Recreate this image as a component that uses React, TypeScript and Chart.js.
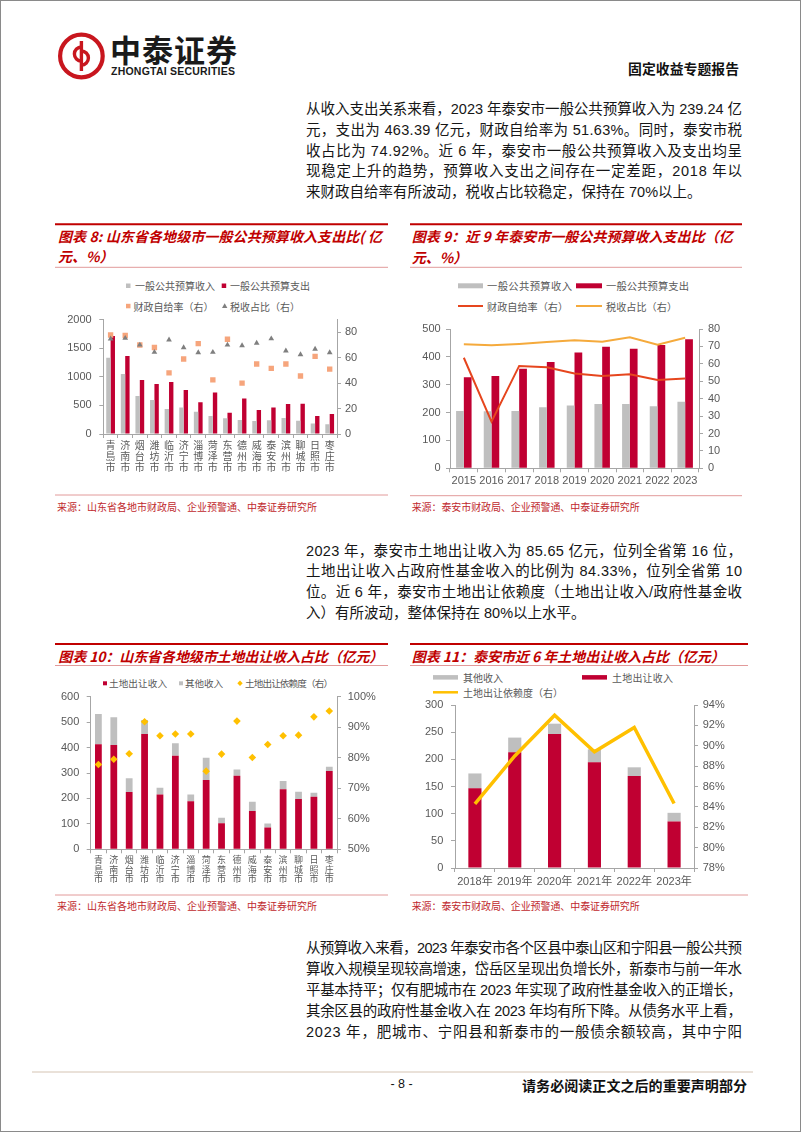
import React, { useEffect, useRef } from 'react';
import { Chart, registerables } from 'chart.js';

Chart.register(...registerables);

// ---------------- data ----------------
const cities = ['青島市', '济南市', '烟台市', '潍坊市', '临沂市', '济宁市', '淄博市', '菏泽市', '东营市', '德州市', '威海市', '泰安市', '滨州市', '聊城市', '日照市', '枣庄市'];

// Chart 8
const budgetRevenue8 = [1331, 1047, 663, 593, 436, 465, 390, 314, 273, 244, 227, 239.24, 280, 232, 185, 170];
const budgetExpense8 = [1710, 1361, 942, 872, 907, 768, 553, 727, 373, 622, 419, 463.39, 523, 530, 313, 349];
const selfRate8 = [77.8, 77.4, 70, 68, 48, 59, 71, 42.5, 74.5, 40, 55, 51.63, 55, 45.6, 61, 51];
const taxShare8 = [74.8, 75.3, 70, 64.3, 74, 68, 64, 64.3, 70, 69.5, 71.4, 74.92, 65.3, 62.4, 66.7, 64];

// Chart 9
const years9 = ['2015', '2016', '2017', '2018', '2019', '2020', '2021', '2022', '2023'];
const revenue9 = [205.6, 205, 206, 219, 225, 231, 231, 222.5, 239.24];
const expense9 = [326.5, 331, 357.5, 381.5, 416, 436.5, 429, 442.5, 463.39];
const selfRate9 = [63.5, 26.8, 58.8, 58, 54.5, 53, 54, 50.7, 51.63];
const taxShare9 = [71.2, 70.6, 71.4, 72.5, 73.5, 72.7, 75.2, 71, 74.92];

// Chart 10
const land10 = [413, 410, 225, 453, 215, 368, 189, 272, 102, 289, 151, 85.65, 236, 198, 207, 308];
const other10 = [119, 109, 54, 55, 27, 49, 26, 88, 22, 25, 36, 15.9, 33, 28, 15, 17];
const dep10 = [77.8, 79.5, 81.3, 91.8, 87.2, 87.8, 87.8, 75.6, 81.2, 92, 80.1, 84.33, 87.2, 87.4, 93.4, 95.3];

// Chart 11
const years11 = ['2018年', '2019年', '2020年', '2021年', '2022年', '2023年'];
const land11 = [146.7, 213, 246.6, 194.5, 169.3, 85.65];
const other11 = [27.3, 27, 19, 24, 16, 15.9];
const dep11 = [84.3, 89.0, 93.0, 89.4, 91.8, 84.33];

// tick settings
const ticks8L = { min: 0, max: 2000, step: 500 };
const ticks8R = { min: 0, max: 90, step: 10 };
const ticks9L = { min: 0, max: 500, step: 50 };
const ticks9R = { min: 0, max: 80, step: 10 };
const ticks10L = { min: 0, max: 600, step: 100 };
const ticks10R = { min: 50, max: 100, step: 10 };
const ticks11L = { min: 0, max: 300, step: 50 };
const ticks11R = { min: 78, max: 94, step: 2 };

// ---------------- styles ----------------
const RED = '#C00032';
const GRAY = '#BFBFBF';
const ORANGE_SQ = '#F6A57C';
const TRI = '#7F7F7F';
const LINE_RED = '#E6461E';
const LINE_ORG = '#F5AA3C';
const YELLOW = '#FFC000';
const AXIS = '#A6A6A6';
const TICK = '#595959';
const TITLE = '#C00000';
const RULE_LIGHT = '#E29A9A';
const LATIN = "'Liberation Sans', 'Noto Sans CJK SC', sans-serif";
const CJK = "'Noto Sans CJK SC', sans-serif";

const plain = (v: number) => String(v);
const pct = (v: number) => v + '%';

function yScale(position: 'left' | 'right', t: { min: number; max: number; step: number }, width: number, pad: number, fmt: (v: number) => string = plain, stacked = false) {
  return {
    type: 'linear',
    position,
    min: t.min,
    max: t.max,
    stacked,
    ticks: {
      stepSize: t.step,
      padding: pad,
      color: TICK,
      font: { family: LATIN, size: 11 },
      callback: (v: any) => fmt(Number(v)),
    },
    grid: { drawOnChartArea: false, drawTicks: true, tickLength: 4, color: AXIS },
    border: { display: true, color: AXIS, width: 1 },
    afterFit: (s: any) => {
      s.width = width;
    },
  };
}

function xScale(height: number, pad: number, font: any, stacked = false) {
  return {
    type: 'category',
    stacked,
    ticks: { padding: pad, color: TICK, font, autoSkip: false, maxRotation: 0, minRotation: 0 },
    grid: { drawOnChartArea: false, drawTicks: true, tickLength: 4, color: AXIS, offset: true },
    border: { display: true, color: AXIS, width: 1 },
    afterFit: (s: any) => {
      s.height = height;
    },
  };
}

function baseOptions(padTop: number) {
  return {
    responsive: false,
    animation: false,
    devicePixelRatio: 1,
    layout: { padding: { top: padTop, left: 0, right: 0, bottom: 0 } },
    plugins: { legend: { display: false }, tooltip: { enabled: false } },
  };
}

function config8(): any {
  return {
    type: 'bar',
    data: {
      labels: cities.map((c) => c.split('')),
      datasets: [
        { type: 'line', label: '税收占比（右）', data: taxShare8, yAxisID: 'y1', showLine: false, pointStyle: 'triangle', pointRadius: 3.3, pointBackgroundColor: TRI, pointBorderColor: TRI, pointBorderWidth: 0, order: 0 },
        { type: 'line', label: '财政自给率（右）', data: selfRate8, yAxisID: 'y1', showLine: false, pointStyle: 'rect', pointRadius: 3.8, pointBackgroundColor: ORANGE_SQ, pointBorderColor: ORANGE_SQ, pointBorderWidth: 0, order: 1 },
        { type: 'bar', label: '一般公共预算收入', data: budgetRevenue8, yAxisID: 'y', backgroundColor: GRAY, categoryPercentage: 0.6, barPercentage: 1, order: 2 },
        { type: 'bar', label: '一般公共预算支出', data: budgetExpense8, yAxisID: 'y', backgroundColor: RED, categoryPercentage: 0.6, barPercentage: 1, order: 2 },
      ],
    },
    options: {
      ...baseOptions(49.5),
      scales: {
        x: xScale(58, 1.5, { family: CJK, size: 10, lineHeight: 1.12 }),
        y: yScale('left', ticks8L, 48.3, 7.6),
        y1: yScale('right', ticks8R, 58, 4),
      },
    },
  };
}

function config9(): any {
  return {
    type: 'bar',
    data: {
      labels: years9,
      datasets: [
        { type: 'line', label: '税收占比（右）', data: taxShare9, yAxisID: 'y1', borderColor: LINE_ORG, borderWidth: 2, pointRadius: 0, tension: 0, fill: false, order: 0 },
        { type: 'line', label: '财政自给率（右）', data: selfRate9, yAxisID: 'y1', borderColor: LINE_RED, borderWidth: 2, pointRadius: 0, tension: 0, fill: false, order: 1 },
        { type: 'bar', label: '一般公共预算收入', data: revenue9, yAxisID: 'y', backgroundColor: GRAY, categoryPercentage: 0.56, barPercentage: 1, order: 2 },
        { type: 'bar', label: '一般公共预算支出', data: expense9, yAxisID: 'y', backgroundColor: RED, categoryPercentage: 0.56, barPercentage: 1, order: 2 },
      ],
    },
    options: {
      ...baseOptions(59),
      scales: {
        x: xScale(23.7, 2.1, { family: LATIN, size: 11, lineHeight: 1.2 }),
        y: yScale('left', ticks9L, 45, 5.3),
        y1: yScale('right', ticks9R, 56, 5),
      },
    },
  };
}

function config10(): any {
  return {
    type: 'bar',
    data: {
      labels: cities.map((c) => c.split('')),
      datasets: [
        { type: 'line', label: '土地出让依赖度（右）', data: dep10, yAxisID: 'y1', showLine: false, pointStyle: 'rectRot', pointRadius: 3.8, pointBackgroundColor: YELLOW, pointBorderColor: YELLOW, pointBorderWidth: 0, order: 0 },
        { type: 'bar', label: '土地出让收入', data: land10, yAxisID: 'y', backgroundColor: RED, categoryPercentage: 0.44, barPercentage: 1, order: 1 },
        { type: 'bar', label: '其他收入', data: other10, yAxisID: 'y', backgroundColor: GRAY, categoryPercentage: 0.44, barPercentage: 1, order: 1 },
      ],
    },
    options: {
      ...baseOptions(28.7),
      scales: {
        x: xScale(43.7, 2.1, { family: CJK, size: 9, lineHeight: 1.02 }, true),
        y: yScale('left', ticks10L, 35.7, 7.4, plain, true),
        y1: yScale('right', ticks10R, 58, 6.7, pct),
      },
    },
  };
}

function config11(): any {
  return {
    type: 'bar',
    data: {
      labels: years11,
      datasets: [
        { type: 'line', label: '土地出让依赖度（右）', data: dep11, yAxisID: 'y1', borderColor: YELLOW, borderWidth: 3.5, pointRadius: 0, tension: 0, fill: false, order: 0 },
        { type: 'bar', label: '土地出让收入', data: land11, yAxisID: 'y', backgroundColor: RED, categoryPercentage: 0.33, barPercentage: 1, order: 1 },
        { type: 'bar', label: '其他收入', data: other11, yAxisID: 'y', backgroundColor: GRAY, categoryPercentage: 0.33, barPercentage: 1, order: 1 },
      ],
    },
    options: {
      ...baseOptions(37),
      scales: {
        x: xScale(22, 3.4, { family: LATIN, size: 11, lineHeight: 1.2 }, true),
        y: yScale('left', ticks11L, 50, 7.7, plain, true),
        y1: yScale('right', ticks11R, 61, 4.7, pct),
      },
    },
  };
}

// ---------------- text ----------------
const para1 = [
  '从收入支出关系来看，2023 年泰安市一般公共预算收入为 239.24 亿',
  '元，支出为 463.39 亿元，财政自给率为 51.63%。同时，泰安市税',
  '收占比为 74.92%。近 6 年，泰安市一般公共预算收入及支出均呈',
  '现稳定上升的趋势，预算收入支出之间存在一定差距，2018 年以',
  '来财政自给率有所波动，税收占比较稳定，保持在 70%以上。',
];
const para2 = [
  '2023 年，泰安市土地出让收入为 85.65 亿元，位列全省第 16 位，',
  '土地出让收入占政府性基金收入的比例为 84.33%，位列全省第 10',
  '位。近 6 年，泰安市土地出让依赖度（土地出让收入/政府性基金收',
  '入）有所波动，整体保持在 80%以上水平。',
];
const para3 = [
  '从预算收入来看，2023 年泰安市各个区县中泰山区和宁阳县一般公共预',
  '算收入规模呈现较高增速，岱岳区呈现出负增长外，新泰市与前一年水',
  '平基本持平；仅有肥城市在 2023 年实现了政府性基金收入的正增长，',
  '其余区县的政府性基金收入在 2023 年均有所下降。从债务水平上看，',
  '2023 年，肥城市、宁阳县和新泰市的一般债余额较高，其中宁阳',
];

type TP = {
  x: number;
  y: number;
  s: number;
  w?: number;
  fill?: string;
  bold?: boolean;
  italic?: boolean;
  family?: string;
  anchor?: 'start' | 'middle' | 'end';
  children: React.ReactNode;
};
const T = ({ x, y, s, w, fill = '#111', bold, italic, family = LATIN, anchor = 'start', children }: TP) => (
  <text
    x={x}
    y={y}
    fontSize={s}
    fill={fill}
    fontFamily={family}
    fontWeight={bold ? 700 : 400}
    fontStyle={italic ? 'italic' : 'normal'}
    dominantBaseline="central"
    textAnchor={anchor}
    textLength={w}
    lengthAdjust={w ? 'spacing' : undefined}
  >
    {children}
  </text>
);

function Paragraph({ lines, y0, step, lastJustified = false }: { lines: string[]; y0: number; step: number; lastJustified?: boolean }) {
  return (
    <g>
      {lines.map((l, i) => {
        const last = i === lines.length - 1 && !lastJustified;
        return (
          <T key={i} x={306} y={y0 + step * i} s={14.5} w={last ? undefined : 436} fill="#161616">
            {l}
          </T>
        );
      })}
    </g>
  );
}

function ChartBox({ left, top, width, height, make }: { left: number; top: number; width: number; height: number; make: () => any }) {
  const ref = useRef<HTMLCanvasElement | null>(null);
  useEffect(() => {
    if (!ref.current) return;
    const chart = new Chart(ref.current, make());
    return () => chart.destroy();
  }, []);
  return <canvas ref={ref} width={width} height={height} style={{ position: 'absolute', left, top, width, height }} />;
}

function TitleBlock({ x1, x2, topY, bottomY }: { x1: number; x2: number; topY: number; bottomY: number }) {
  return (
    <g>
      <line x1={x1} x2={x2} y1={topY} y2={topY} stroke={TITLE} strokeWidth={2} />
      <line x1={x1} x2={x2} y1={bottomY} y2={bottomY} stroke={RULE_LIGHT} strokeWidth={1} />
    </g>
  );
}

export default function App() {
  const L = '#595959';
  return (
    <div style={{ position: 'absolute', left: 0, top: 0, width: 802, height: 1133, background: '#fff', overflow: 'hidden' }}>
      <svg width={802} height={1133} style={{ position: 'absolute', left: 0, top: 0 }}>
        <rect x={0.5} y={0.5} width={800} height={1131} fill="none" stroke="#8a8a8a" strokeWidth={1} />

        {/* logo */}
        <circle cx={81.4} cy={56} r={21.3} fill="none" stroke="#C8161E" strokeWidth={4.2} />
        <line x1={81.4} x2={81.4} y1={41} y2={71} stroke="#C8161E" strokeWidth={3.4} />
        <path d="M81.4 47 A7 7 0 1 0 81.4 61" fill="none" stroke="#C8161E" strokeWidth={3.4} />
        <path d="M81.4 51 A7 7 0 1 1 81.4 65" fill="none" stroke="#C8161E" strokeWidth={3.4} />
        <T x={110} y={48.5} s={31} w={127} bold family={CJK} fill="#1a1a1a">中泰证券</T>
        <T x={111} y={71} s={10.5} w={124} bold fill="#1a1a1a">ZHONGTAI SECURITIES</T>
        <T x={628} y={68.3} s={13.8} w={111} bold family={CJK} fill="#111">固定收益专题报告</T>

        <Paragraph lines={para1} y0={109.3} step={20.7} />
        <Paragraph lines={para2} y0={550.7} step={20.7} />
        <Paragraph lines={para3} y0={947.5} step={21} lastJustified />

        {/* Chart 8 frame */}
        <TitleBlock x1={55} x2={388} topY={224.3} bottomY={267.3} />
        <T x={58} y={236} s={14} w={324} bold italic family={CJK} fill={TITLE}>图表 8: 山东省各地级市一般公共预算收入支出比( 亿</T>
        <T x={58} y={255.5} s={14} bold italic family={CJK} fill={TITLE}>元、%）</T>
        <rect x={126} y={283.5} width={4.5} height={4.5} fill={GRAY} />
        <T x={135} y={285.7} s={10} family={CJK} fill={L}>一般公共预算收入</T>
        <rect x={221.7} y={283.5} width={4.5} height={4.5} fill={RED} />
        <T x={230} y={285.7} s={10} family={CJK} fill={L}>一般公共预算支出</T>
        <rect x={126} y={303.8} width={4.5} height={4.5} fill={ORANGE_SQ} />
        <T x={133.5} y={306} s={10} family={CJK} fill={L}>财政自给率（右）</T>
        <polygon points="224.7,303.3 227.4,308 222,308" fill={TRI} />
        <T x={230} y={306} s={10} family={CJK} fill={L}>税收占比（右）</T>
        <line x1={55} x2={388} y1={495} y2={495} stroke={RULE_LIGHT} strokeWidth={1} />
        <T x={57} y={506.7} s={10} w={260} family={CJK} fill="#C0282D">来源：山东省各地市财政局、企业预警通、中泰证券研究所</T>

        {/* Chart 9 frame */}
        <TitleBlock x1={410} x2={742} topY={224.3} bottomY={267.3} />
        <T x={411.7} y={236} s={14} w={321} bold italic family={CJK} fill={TITLE}>图表 9：近 9 年泰安市一般公共预算收入支出比（亿</T>
        <T x={411.7} y={256.5} s={14} bold italic family={CJK} fill={TITLE}>元、%）</T>
        <rect x={458} y={283.3} width={25} height={5} fill={GRAY} />
        <T x={487} y={285.7} s={10.3} w={85} family={CJK} fill={L}>一般公共预算收入</T>
        <rect x={576} y={283.3} width={26} height={5} fill={RED} />
        <T x={606} y={285.7} s={10.3} w={83} family={CJK} fill={L}>一般公共预算支出</T>
        <line x1={458} x2={483} y1={306} y2={306} stroke={LINE_RED} strokeWidth={2} />
        <T x={487} y={306} s={10.1} w={81} family={CJK} fill={L}>财政自给率（右）</T>
        <line x1={576} x2={602} y1={306} y2={306} stroke={LINE_ORG} strokeWidth={2} />
        <T x={606} y={306} s={10.1} w={71} family={CJK} fill={L}>税收占比（右）</T>
        <line x1={410} x2={742} y1={495.7} y2={495.7} stroke={RULE_LIGHT} strokeWidth={1} />
        <T x={411.7} y={506} s={10} w={228} family={CJK} fill="#C0282D">来源：泰安市财政局、企业预警通、中泰证券研究所</T>

        {/* Chart 10 frame */}
        <TitleBlock x1={55} x2={388} topY={644} bottomY={665.5} />
        <T x={58.3} y={656} s={14} w={325} bold italic family={CJK} fill={TITLE}>图表 10：山东省各地级市土地出让收入占比（亿元）</T>
        <rect x={103} y={681.3} width={4} height={4} fill={RED} />
        <T x={109} y={683.3} s={9.6} w={58} family={CJK} fill={L}>土地出让收入</T>
        <rect x={179} y={681.3} width={4} height={4} fill={GRAY} />
        <T x={185} y={683.3} s={9.6} w={38} family={CJK} fill={L}>其他收入</T>
        <polygon points="240,680.6 242.7,683.3 240,686 237.3,683.3" fill={YELLOW} />
        <T x={245} y={683.3} s={9.6} w={88} family={CJK} fill={L}>土地出让依赖度（右）</T>
        <line x1={55} x2={388} y1={895} y2={895} stroke={RULE_LIGHT} strokeWidth={1} />
        <T x={57} y={905.7} s={10} w={260} family={CJK} fill="#C0282D">来源：山东省各地市财政局、企业预警通、中泰证券研究所</T>

        {/* Chart 11 frame */}
        <TitleBlock x1={410} x2={748} topY={644} bottomY={665.5} />
        <T x={411.7} y={656} s={14} w={313} bold italic family={CJK} fill={TITLE}>图表 11：泰安市近 6 年土地出让收入占比（亿元）</T>
        <rect x={433} y={675.1} width={25} height={4.5} fill={GRAY} />
        <T x={463} y={677.3} s={10} family={CJK} fill={L}>其他收入</T>
        <rect x={582} y={675.1} width={25} height={4.5} fill={RED} />
        <T x={612} y={677.3} s={10} w={61} family={CJK} fill={L}>土地出让收入</T>
        <line x1={433} x2={458} y1={692.3} y2={692.3} stroke={YELLOW} strokeWidth={2.5} />
        <T x={463} y={692.3} s={10} w={100} family={CJK} fill={L}>土地出让依赖度（右）</T>
        <line x1={410} x2={748} y1={895} y2={895} stroke={RULE_LIGHT} strokeWidth={1} />
        <T x={411.7} y={905} s={10} w={228} family={CJK} fill="#C0282D">来源：泰安市财政局、企业预警通、中泰证券研究所</T>

        {/* footer */}
        <line x1={32} x2={753} y1={1072} y2={1072} stroke="#D5C4B3" strokeWidth={1} />
        <T x={401.5} y={1084} s={12.5} anchor="middle" fill="#111">- 8 -</T>
        <T x={522} y={1085} s={14} w={225} bold family={CJK} fill="#111">请务必阅读正文之后的重要声明部分</T>
      </svg>

      <ChartBox left={55} top={270} width={340} height={222} make={config8} />
      <ChartBox left={405} top={270} width={350} height={222} make={config9} />
      <ChartBox left={55} top={668} width={340} height={225} make={config10} />
      <ChartBox left={405} top={668} width={350} height={222} make={config11} />
    </div>
  );
}
